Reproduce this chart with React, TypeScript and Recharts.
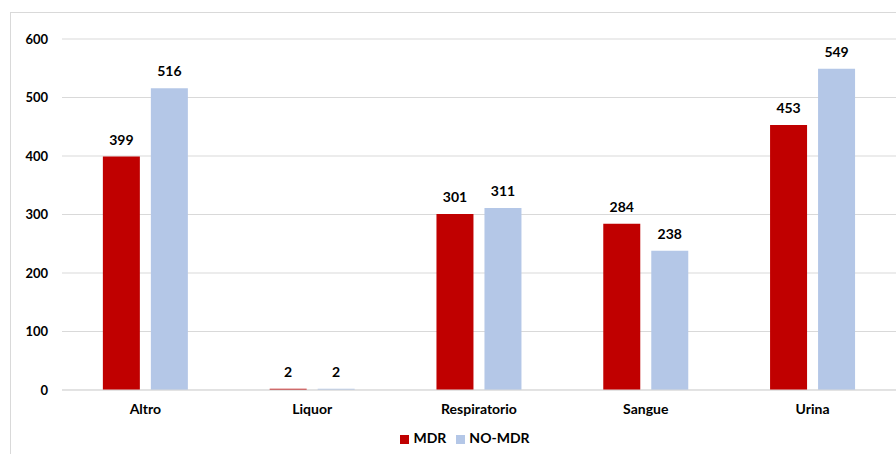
import React from 'react';
import { BarChart, Bar, XAxis, YAxis, CartesianGrid, Legend, LabelList } from 'recharts';

const categories = ['Altro', 'Liquor', 'Respiratorio', 'Sangue', 'Urina'];
const mdr = [399, 2, 301, 284, 453];
const noMdr = [516, 2, 311, 238, 549];
const yTicks = [0, 100, 200, 300, 400, 500, 600];

const data = categories.map((name, i) => ({ name, MDR: mdr[i], 'NO-MDR': noMdr[i] }));

const FONT = 'Lato, "Open Sans", sans-serif';
const textStyle = { fill: '#000', fontSize: 14, fontWeight: 700, fontFamily: FONT };

export default function App() {
  return (
    <div style={{ position: 'absolute', left: 0, top: 0, width: 896, height: 454, background: '#fff', overflow: 'hidden', fontFamily: FONT }}>
      {/* outer frame like the spreadsheet chart area */}
      <div style={{ position: 'absolute', left: 10, top: 12, width: 900, height: 460, border: '1px solid #d9d9d9' }} />
      <BarChart
        width={896}
        height={454}
        data={data}
        margin={{ top: 39, right: 0, left: 0, bottom: 8 }}
        barCategoryGap="24.5%"
        barGap={11}
      >
        <CartesianGrid vertical={false} stroke="#d9d9d9" />
        <YAxis
          width={62}
          domain={[0, 600]}
          ticks={yTicks}
          axisLine={false}
          tickLine={false}
          tickSize={0}
          tickMargin={14}
          tick={{ ...textStyle, fontSize: 13 }}
        />
        <XAxis
          dataKey="name"
          height={39}
          axisLine={{ stroke: '#d9d9d9' }}
          tickLine={false}
          tickSize={0}
          tickMargin={14}
          tick={textStyle}
        />
        <Legend
          verticalAlign="bottom"
          align="center"
          iconType="square"
          iconSize={9}
          wrapperStyle={{ fontSize: 14, fontWeight: 700, fontFamily: FONT, paddingLeft: 22 }}
          formatter={(v: string) => <span style={{ color: '#000' }}>{v}</span>}
        />
        <Bar dataKey="MDR" fill="#c00000" isAnimationActive={false}>
          <LabelList dataKey="MDR" position="top" offset={12} style={textStyle} />
        </Bar>
        <Bar dataKey="NO-MDR" fill="#b4c7e7" isAnimationActive={false}>
          <LabelList dataKey="NO-MDR" position="top" offset={12} style={textStyle} />
        </Bar>
      </BarChart>
    </div>
  );
}
